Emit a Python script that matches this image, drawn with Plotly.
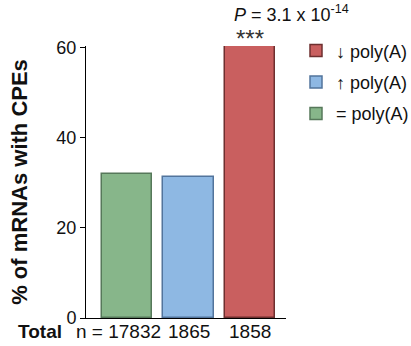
import plotly.graph_objects as go

categories = ["= poly(A)", "↑ poly(A)", "↓ poly(A)"]
values = [32.0, 31.3, 60.3]
n_labels = ["n = 17832", "1865", "1858"]
fill_colors = ["#87b68a", "#8eb8e3", "#c95f5f"]
line_colors = ["#56785a", "#52749c", "#6e2f2f"]
legend_ranks = [3, 2, 1]
y_ticks = [0, 20, 40, 60]
p_text = "<i>P</i> = 3.1 x 10<sup>-14</sup>"
stars = "***"

FONT = "Liberation Sans, Arial, sans-serif"
fig = go.Figure()
xs = list(range(len(categories)))
for i, (cat, v) in enumerate(zip(categories, values)):
    fig.add_trace(go.Bar(
        x=[xs[i]], y=[v], name=cat, width=0.82,
        marker=dict(color=fill_colors[i], line=dict(color=line_colors[i], width=1.5)),
        legendgroup=cat, legendrank=legend_ranks[i], showlegend=True,
    ))

ann = []
for i, lab in enumerate(n_labels):
    ann.append(dict(x=xs[i], y=0, xref="x", yref="y", text=lab, showarrow=False,
                    yanchor="top", yshift=-1, xshift=(-9 if i == 0 else 0),
                    font=dict(family=FONT, size=19, color="#111")))
ann.append(dict(x=-0.23, y=0, xref="paper", yref="y", text="<b>Total</b>", showarrow=False,
                xanchor="center", yanchor="top", yshift=-1,
                font=dict(family=FONT, size=19, color="#111")))
ann.append(dict(x=xs[2], y=values[2], xref="x", yref="y", text=stars, showarrow=False,
                yanchor="bottom", yshift=-8, font=dict(family=FONT, size=24, color="#333")))
ann.append(dict(x=xs[2], y=values[2], xref="x", yref="y", text=p_text, showarrow=False,
                xanchor="left", xshift=-18,
                yanchor="bottom", yshift=19, font=dict(family=FONT, size=18, color="#111")))

fig.update_layout(
    width=411, height=346,
    margin=dict(l=86, r=125, t=46, b=28, autoexpand=False),
    plot_bgcolor="white", paper_bgcolor="white",
    bargap=0,
    font=dict(family=FONT, size=17, color="#111"),
    xaxis=dict(range=[-0.667, 2.585], showticklabels=False, ticks="", automargin=False,
               showline=True, linecolor="black", linewidth=1, showgrid=False, zeroline=False),
    yaxis=dict(range=[0, 60.4], tickvals=y_ticks, ticks="outside", ticklen=5, tickcolor="black",
               automargin=False,
               showline=True, linecolor="black", linewidth=1, showgrid=False, zeroline=False,
               tickfont=dict(family=FONT, size=18, color="#111"),
               title=dict(text="<b>% of mRNAs with CPEs</b>", standoff=22,
                          font=dict(family=FONT, size=22, color="#111"))),
    legend=dict(x=1.05, y=1.05, xanchor="left", yanchor="top", traceorder="grouped",
                tracegroupgap=5, itemwidth=30, font=dict(family=FONT, size=18, color="#111"),
                bgcolor="rgba(0,0,0,0)"),
    annotations=ann,
)
fig.write_html("out.html", config={"displayModeBar": False})

with open("out.html", "r", encoding="utf-8") as f:
    html = f.read()
html = html.replace("<head>", "<head><style>html,body{margin:0;padding:0;}</style>", 1)
with open("out.html", "w", encoding="utf-8") as f:
    f.write(html)
